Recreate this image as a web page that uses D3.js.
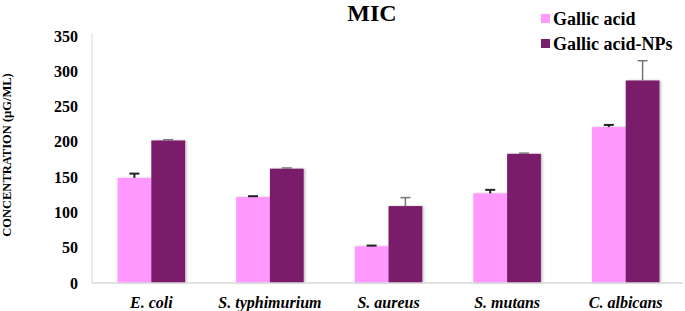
<!DOCTYPE html>
<html>
<head>
<meta charset="utf-8">
<script src="https://cdn.jsdelivr.net/npm/d3@7"></script>
<style>
  body { margin: 0; background: #fff; }
  svg { display: block; }
</style>
</head>
<body>
<svg id="chart"></svg>
<script>
// data
const categories = ['E. coli', 'S. typhimurium', 'S. aureus', 'S. mutans', 'C. albicans'];
const seriesNames = ['Gallic acid', 'Gallic acid-NPs'];
const gallicAcid = [149, 122, 52, 127, 221];
const gallicAcidErr = [6, 1, 1, 5, 3];
const gallicNPs = [202, 162, 109, 183, 287];
const gallicNPsErr = [1, 1, 12, 1, 28];
const yTicks = [0, 50, 100, 150, 200, 250, 300, 350];

const colors = ['#ff99ff', '#7a1f6a'];
const errColors = ['#222', '#777'];

const width = 685, height = 311;
const margin = {top: 36, right: 0, bottom: 28, left: 92};
const font = '"Liberation Serif", "Times New Roman", serif';

const svg = d3.select('#chart').attr('width', width).attr('height', height);

const x = d3.scaleBand()
    .domain(categories)
    .range([margin.left, width])
    .paddingInner(0.43)
    .paddingOuter(0.215);

const xs = d3.scaleBand()
    .domain(seriesNames)
    .range([0, x.bandwidth()]);

const y = d3.scaleLinear()
    .domain([0, 350])
    .range([height - margin.bottom, margin.top]);

const table = categories.map((c, i) => ({
    cat: c,
    vals: [
        {s: seriesNames[0], v: gallicAcid[i], e: gallicAcidErr[i], k: 0},
        {s: seriesNames[1], v: gallicNPs[i], e: gallicNPsErr[i], k: 1}
    ]
}));

// y axis line
svg.append('line')
    .attr('x1', margin.left).attr('x2', margin.left)
    .attr('y1', y(350) - 3).attr('y2', y(0))
    .attr('stroke', '#d9d9d9');

// y tick labels
const yAxis = d3.axisLeft(y).tickValues(yTicks).tickSize(0).tickPadding(14);
svg.append('g')
    .attr('transform', `translate(${margin.left},0)`)
    .call(yAxis)
    .call(g => g.select('.domain').remove())
    .selectAll('text')
    .attr('font-family', font)
    .attr('font-weight', 'bold')
    .attr('font-size', 16)
    .attr('fill', '#000');

// bars
const defs = svg.append('defs');
const f = defs.append('filter').attr('id', 'shadow')
    .attr('x', '-10%').attr('y', '-5%').attr('width', '130%').attr('height', '110%');
f.append('feDropShadow').attr('dx', 1.5).attr('dy', 0).attr('stdDeviation', 0.8)
    .attr('flood-color', '#000').attr('flood-opacity', 0.25);

const groups = svg.selectAll('g.cat')
    .data(table)
    .join('g')
    .attr('class', 'cat')
    .attr('transform', d => `translate(${x(d.cat)},0)`);

groups.selectAll('rect')
    .data(d => d.vals)
    .join('rect')
    .attr('x', d => xs(d.s))
    .attr('y', d => y(d.v))
    .attr('width', xs.bandwidth())
    .attr('height', d => y(0) - y(d.v))
    .attr('fill', d => colors[d.k])
    .attr('filter', 'url(#shadow)');

// error bars
const eb = groups.selectAll('g.err')
    .data(d => d.vals)
    .join('g')
    .attr('class', 'err')
    .attr('stroke', d => errColors[d.k])
    .attr('stroke-width', d => d.k === 0 ? 2 : 1.5);
eb.append('line')
    .attr('x1', d => xs(d.s) + xs.bandwidth() / 2)
    .attr('x2', d => xs(d.s) + xs.bandwidth() / 2)
    .attr('y1', d => y(d.v))
    .attr('y2', d => y(d.v + d.e));
eb.append('line')
    .attr('x1', d => xs(d.s) + xs.bandwidth() / 2 - 5)
    .attr('x2', d => xs(d.s) + xs.bandwidth() / 2 + 5)
    .attr('y1', d => y(d.v + d.e))
    .attr('y2', d => y(d.v + d.e));

// x axis baseline
svg.append('line')
    .attr('x1', margin.left).attr('x2', width - 2)
    .attr('y1', y(0)).attr('y2', y(0))
    .attr('stroke', '#d9d9d9').attr('stroke-width', 1.5);

// x labels
const xAxis = d3.axisBottom(x).tickSize(0).tickPadding(14);
svg.append('g')
    .attr('transform', `translate(0,${y(0)})`)
    .call(xAxis)
    .call(g => g.select('.domain').remove())
    .selectAll('text')
    .attr('font-family', font)
    .attr('font-weight', 'bold')
    .attr('font-style', 'italic')
    .attr('font-size', 16)
    .attr('fill', '#000');

// y axis title
svg.append('text')
    .attr('transform', 'translate(11,155) rotate(-90)')
    .attr('text-anchor', 'middle')
    .attr('font-family', font)
    .attr('font-weight', 'bold')
    .attr('font-size', 12.5)
    .text('CONCENTRATION (µG/ML)');

// title
svg.append('text')
    .attr('x', 372).attr('y', 21)
    .attr('text-anchor', 'middle')
    .attr('font-family', font)
    .attr('font-weight', 'bold')
    .attr('font-size', 24)
    .text('MIC');

// legend
const legend = svg.selectAll('g.legend')
    .data(seriesNames)
    .join('g')
    .attr('class', 'legend')
    .attr('transform', (d, i) => `translate(541,${14 + i * 25})`);
legend.append('rect')
    .attr('width', 9).attr('height', 9)
    .attr('fill', (d, i) => colors[i]);
legend.append('text')
    .attr('x', 12).attr('y', 10.5)
    .attr('font-family', font)
    .attr('font-weight', 'bold')
    .attr('font-size', 18)
    .text(d => d);
</script>
</body>
</html>
